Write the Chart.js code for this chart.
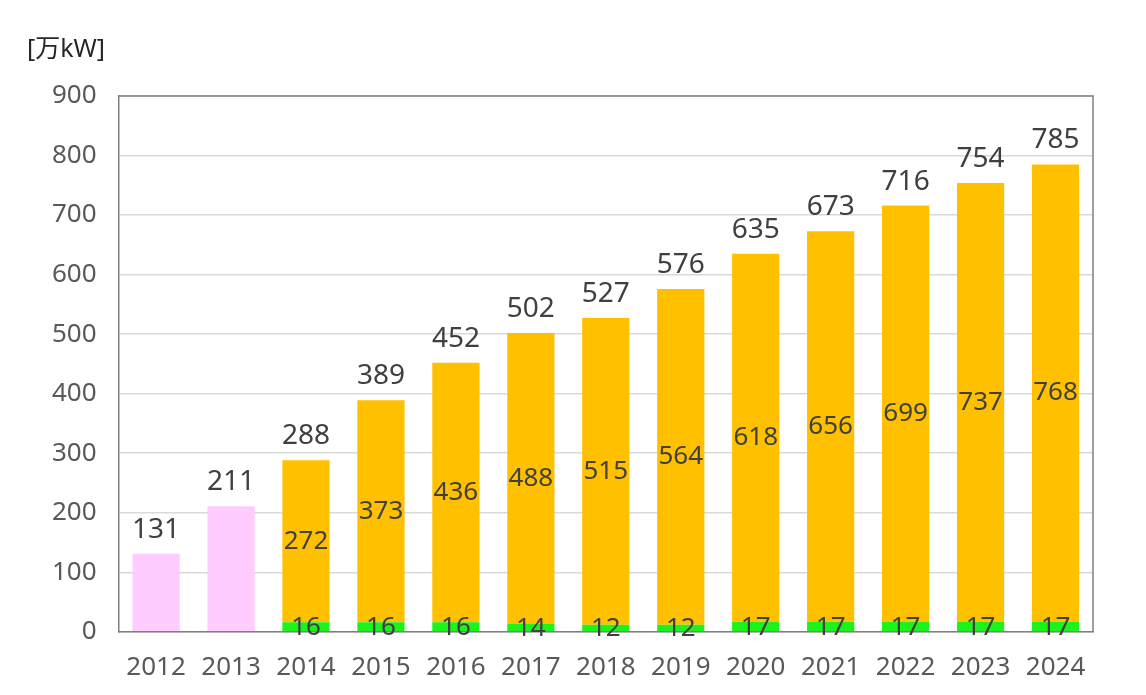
<!doctype html>
<html lang="ja">
<head>
<meta charset="utf-8">
<title>万kW chart</title>
<script src="https://cdn.jsdelivr.net/npm/chart.js@4.4.1/dist/chart.umd.min.js"></script>
<style>
  html, body { margin: 0; padding: 0; background: #fff; }
  #wrap { width: 1146px; height: 695px; }
</style>
</head>
<body>
<div id="wrap"><canvas id="myChart" width="1146" height="695"></canvas></div>
<script>
// data
var years = ["2012", "2013", "2014", "2015", "2016", "2017", "2018", "2019", "2020", "2021", "2022", "2023", "2024"];
var pinkVals = [131, 211, null, null, null, null, null, null, null, null, null, null, null];
var greenVals = [null, null, 16, 16, 16, 14, 12, 12, 17, 17, 17, 17, 17];
var orangeVals = [null, null, 272, 373, 436, 488, 515, 564, 618, 656, 699, 737, 768];
var totals = [131, 211, 288, 389, 452, 502, 527, 576, 635, 673, 716, 754, 785];
var yTicks = [0, 100, 200, 300, 400, 500, 600, 700, 800, 900];
var unitLabel = "[万kW]";

var FONT = "'Noto Sans', 'Noto Sans CJK JP', sans-serif";

// labels inside segments and on top of bars
var labelPlugin = {
  id: 'labels',
  afterDatasetsDraw: function(chart) {
    var ctx = chart.ctx;
    ctx.save();
    ctx.fillStyle = '#404040';
    ctx.textAlign = 'center';
    ctx.textBaseline = 'middle';
    ctx.font = '26px ' + FONT;
    // segment labels (green + orange)
    [1, 2].forEach(function(di) {
      var meta = chart.getDatasetMeta(di);
      var vals = chart.data.datasets[di].data;
      meta.data.forEach(function(bar, i) {
        if (vals[i] == null) return;
        var mid = (bar.y + bar.base) / 2;
        if (di === 1) mid += 1;
        ctx.fillText(vals[i], bar.x, mid);
      });
    });
    // totals above bars
    ctx.font = '28px ' + FONT;
    ctx.textBaseline = 'bottom';
    var yScale = chart.scales.y;
    var xScale = chart.scales.x;
    totals.forEach(function(t, i) {
      ctx.fillText(t, xScale.getPixelForValue(i), yScale.getPixelForValue(t) - 10);
    });
    // border on top and right
    var a = chart.chartArea;
    ctx.strokeStyle = '#808080';
    ctx.lineWidth = 1.5;
    ctx.beginPath();
    ctx.moveTo(a.left, a.top);
    ctx.lineTo(a.right, a.top);
    ctx.lineTo(a.right, a.bottom);
    ctx.stroke();
    // unit
    ctx.font = '25px ' + FONT;
    ctx.textAlign = 'left';
    ctx.textBaseline = 'middle';
    ctx.fillStyle = '#262626';
    ctx.fillText(unitLabel, 27, 50);
    ctx.restore();
  }
};

var ctx = document.getElementById("myChart");
var myChart = new Chart(ctx, {
  type: 'bar',
  data: {
    labels: years,
    datasets: [
      { label: 'a', data: pinkVals, backgroundColor: '#FFCCFF', stack: 's' },
      { label: 'b', data: greenVals, backgroundColor: '#1DF21D', stack: 's' },
      { label: 'c', data: orangeVals, backgroundColor: '#FFC000', stack: 's' }
    ]
  },
  options: {
    responsive: false,
    animation: false,
    devicePixelRatio: 1,
    layout: { padding: { top: 96, left: 30, right: 53, bottom: 0 } },
    datasets: { bar: { categoryPercentage: 1.0, barPercentage: 0.63, skipNull: false } },
    plugins: { legend: { display: false }, tooltip: { enabled: false } },
    scales: {
      x: {
        stacked: true,
        grid: { display: false },
        border: { color: '#808080', width: 1.5 },
        ticks: { color: '#595959', font: { size: 26, family: FONT }, padding: 12, maxRotation: 0 }
      },
      y: {
        stacked: true,
        min: 0,
        max: 900,
        afterBuildTicks: function(scale) {
          scale.ticks = yTicks.map(function(v) { return { value: v }; });
        },
        grid: { color: '#D9D9D9', lineWidth: 1.5, drawTicks: false },
        border: { color: '#808080', width: 1.5 },
        ticks: { color: '#595959', font: { size: 26, family: FONT }, padding: 22 }
      }
    }
  },
  plugins: [labelPlugin]
});
</script>
</body>
</html>
